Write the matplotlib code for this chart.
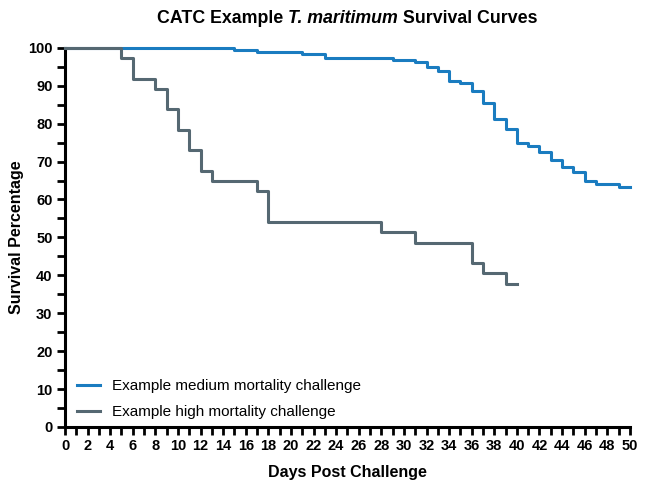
import matplotlib
matplotlib.use('Agg')
import matplotlib.pyplot as plt
from matplotlib.ticker import MultipleLocator

plt.rcParams['font.family'] = ['Liberation Sans', 'DejaVu Sans']

# step curves: day of each drop and survival after it
medium_days = [0, 15, 17, 21, 23, 29, 31, 32, 33, 34, 35, 36, 37, 38, 39, 40,
               41, 42, 43, 44, 45, 46, 47, 49, 50]
medium_surv = [100, 99.5, 98.9, 98.4, 97.4, 96.9, 96.3, 95.0, 93.8, 91.2, 90.6,
               88.6, 85.5, 81.3, 78.7, 75.0, 74.0, 72.4, 70.3, 68.7, 67.2, 65.0,
               64.0, 63.4, 63.4]
high_days = [0, 5, 6, 8, 9, 10, 11, 12, 13, 17, 18, 28, 31, 36, 37, 39, 40]
high_surv = [100, 97.3, 91.9, 89.2, 83.8, 78.4, 73.0, 67.6, 64.9, 62.2, 54.1,
             51.4, 48.6, 43.2, 40.5, 37.8, 37.8]

fig = plt.figure(figsize=(6.5, 4.88), dpi=100)
ax = fig.add_axes([0.1, 0.125, 0.869, 0.777])

ax.step(medium_days, medium_surv, where='post', color='#1a7cc0', lw=2.2,
        label='Example medium mortality challenge', clip_on=False, zorder=3)
ax.step(high_days, high_surv, where='post', color='#556872', lw=2.2,
        label='Example high mortality challenge', clip_on=False, zorder=3)

ax.set_xlim(0, 50)
ax.set_ylim(0, 100)
ax.xaxis.set_major_locator(MultipleLocator(2))
ax.xaxis.set_minor_locator(MultipleLocator(1))
ax.yaxis.set_major_locator(MultipleLocator(10))
ax.yaxis.set_minor_locator(MultipleLocator(5))
for s in ['top', 'right']:
    ax.spines[s].set_visible(False)
for s in ['left', 'bottom']:
    ax.spines[s].set_linewidth(2.2)
ax.tick_params(which='both', direction='out', width=2, length=6, labelsize=10.5)
ax.tick_params(which='major', pad=3)
for lbl in ax.get_xticklabels() + ax.get_yticklabels():
    lbl.set_fontweight('bold')

ax.set_xlabel('Days Post Challenge', fontsize=11.5, fontweight='bold', labelpad=8)
ax.set_ylabel('Survival Percentage', fontsize=11.5, fontweight='bold', labelpad=3)

# title in pieces so the species name can be italic
pieces = [('CATC Example ', 'normal'), ('T. maritimum', 'italic'),
          (' Survival Curves', 'normal')]
fig.canvas.draw()
r = fig.canvas.get_renderer()
texts = []
for s, st in pieces:
    t = fig.text(0, 0.963, s, fontsize=12.8, fontweight='bold', style=st,
                 va='center', ha='left')
    texts.append(t)
widths = [t.get_window_extent(r).width for t in texts]
fw = fig.get_figwidth() * fig.dpi
x = (0.1 + 0.869 / 2) - sum(widths) / fw / 2
for t, w in zip(texts, widths):
    t.set_x(x)
    x += w / fw

ax.legend(loc='lower left', bbox_to_anchor=(0.0, -0.012), frameon=False,
          fontsize=11, handlelength=1.5, handletextpad=0.75, labelspacing=0.8,
          borderaxespad=0.4)

fig.savefig('out.png', dpi=100)
